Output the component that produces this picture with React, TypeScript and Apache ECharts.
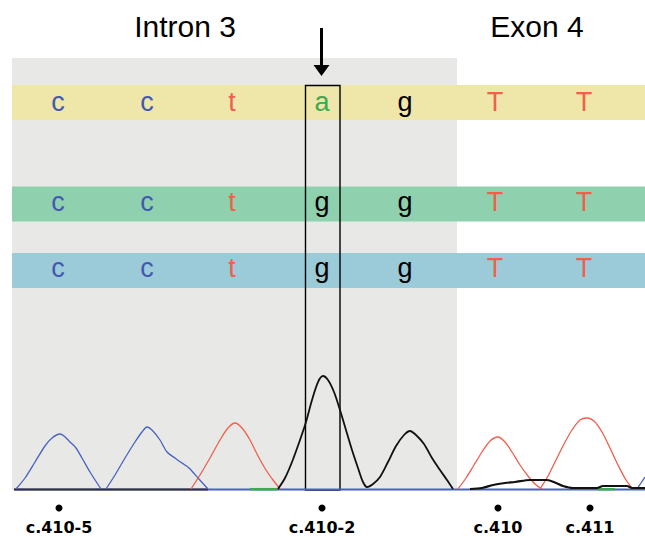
import React, { useEffect, useRef } from "react";
import * as echarts from "echarts";

// ---- data ----
const regionTitles = ["Intron 3", "Exon 4"];
const sequenceRows = [
  ["c", "c", "t", "a", "g", "T", "T"],
  ["c", "c", "t", "g", "g", "T", "T"],
  ["c", "c", "t", "g", "g", "T", "T"],
];
const baseX = [58, 147, 232, 322, 405, 495, 584];
const rowLevels = [388.4, 287.7, 222.1];
const bandRanges = [
  [370, 405],
  [268.5, 303.5],
  [202, 237],
];
const positionLabels = ["c.410-5", "c.410-2", "c.410", "c.411"];
const positionX = [59, 322, 498, 590];

// chromatogram traces (x = scan position, y = signal)
const blue1X = [16, 25, 35, 45, 52, 60, 64, 70, 76, 82, 90, 101];
const blue1Y = [1, 12, 28, 44, 52, 56, 54, 48, 42, 32, 18, 1];
const blue2X = [106, 115, 125, 135, 142, 147, 152, 160, 167, 175, 182, 189, 198, 208];
const blue2Y = [1, 15, 32, 48, 58, 63, 60, 50, 38, 32, 27, 22, 12, 1];
const red1X = [191, 200, 210, 220, 228, 235, 242, 250, 258, 266, 273, 280];
const red1Y = [1, 15, 32, 50, 62, 67, 62, 50, 34, 20, 10, 1];
const black1X = [278, 285, 292, 300, 306, 312, 318, 323, 328, 334, 340, 346, 352, 358, 363, 367, 373, 380, 388, 396, 404, 410, 416, 424, 432, 440, 447, 453];
const black1Y = [1, 12, 28, 50, 68, 90, 108, 114, 110, 98, 80, 60, 40, 22, 8, 3, 6, 13, 28, 44, 55, 59, 55, 46, 32, 20, 10, 1];
const red2X = [458, 466, 474, 482, 490, 498, 505, 512, 520, 528, 535, 542];
const red2Y = [1, 12, 25, 38, 49, 53, 48, 38, 25, 14, 6, 1];
const red3X = [540, 548, 556, 564, 572, 580, 587, 594, 602, 610, 618, 626, 633];
const red3Y = [1, 14, 30, 46, 60, 70, 72, 69, 58, 42, 25, 10, 1];
const blue3X = [637, 641, 645];
const blue3Y = [1, 7, 13];
const black2X = [470, 482, 493, 505, 515, 530, 547, 556, 563, 573, 597, 603, 627, 632, 645];
const black2Y = [1, 2, 5, 7, 8, 10, 10, 7, 4, 2, 2, 4, 4, 2, 2];
const baselineBlueX = [14, 645];
const baselineDarkX = [14, 208];
const green1X = [250, 277];
const green2X = [597, 615];

const BLUE = "#4862c0";
const RED = "#f0604c";
const BLACK = "#111111";
const letterColor: Record<string, string> = {
  c: "#4358b0",
  t: "#f0604a",
  T: "#f0604a",
  a: "#3caa50",
  g: "#000000",
};
const bandColors = ["#efe6aa", "#8fd1ae", "#9bcbd9"];

const zip = (xs: number[], ys: number[]) => xs.map((x, i) => [x, ys[i]]);
const flat = (xs: number[], v: number) => xs.map((x) => [x, v]);

export default function App() {
  const ref = useRef<HTMLDivElement>(null);
  useEffect(() => {
    document.body.style.margin = "0";
    const chart = echarts.init(ref.current!, undefined, { renderer: "svg" });

    const trace = (data: number[][], color: string, width: number, z = 3) => ({
      type: "line",
      data,
      showSymbol: false,
      symbol: "none",
      smooth: 0.3,
      z,
      silent: true,
      lineStyle: { color, width },
    });

    const letterData: any[] = [];
    sequenceRows.forEach((row, r) => {
      row.forEach((ch, i) => {
        letterData.push({
          value: [baseX[i], rowLevels[r]],
          name: ch,
          label: { color: letterColor[ch] },
        });
      });
    });

    chart.setOption({
      animation: false,
      grid: { left: 0, right: 0, top: 0, bottom: 0 },
      xAxis: { type: "value", min: 0, max: 645, show: false },
      yAxis: { type: "value", min: -47, max: 490, show: false },
      series: [
        {
          type: "line",
          data: [],
          z: 1,
          silent: true,
          markArea: {
            silent: true,
            itemStyle: { color: "#e8e8e6", opacity: 1 },
            data: [[{ xAxis: 12, yAxis: 0 }, { xAxis: 457, yAxis: 432 }]],
          },
        },
        {
          type: "line",
          data: [],
          z: 2,
          silent: true,
          markArea: {
            silent: true,
            data: bandRanges.map((b, i) => [
              { xAxis: 12, yAxis: b[0], itemStyle: { color: bandColors[i], opacity: 1 } },
              { xAxis: 645, yAxis: b[1] },
            ]),
          },
        },
        trace(flat(baselineBlueX, 0.5), BLUE, 2),
        trace(flat(baselineDarkX, 0.6), "#333333", 2),
        trace(flat(green1X, 0.8), "#3caa50", 2.5),
        trace(flat(green2X, 0.8), "#3caa50", 2.5),
        trace(zip(blue1X, blue1Y), BLUE, 1.3),
        trace(zip(blue2X, blue2Y), BLUE, 1.3),
        trace(zip(blue3X, blue3Y), BLUE, 1.3),
        trace(zip(red1X, red1Y), RED, 1.3),
        trace(zip(red2X, red2Y), RED, 1.3),
        trace(zip(red3X, red3Y), RED, 1.3),
        trace(zip(black2X, black2Y), BLACK, 2.2),
        trace(zip(black1X, black1Y), BLACK, 1.8),
        {
          type: "scatter",
          z: 4,
          silent: true,
          symbolSize: 1,
          itemStyle: { color: "rgba(0,0,0,0)", opacity: 1 },
          data: letterData,
          label: {
            show: true,
            position: "inside",
            formatter: (p: any) => p.name,
            fontSize: 27,
            opacity: 1,
            fontFamily: "Liberation Sans, Arial, sans-serif",
          },
        },
        {
          type: "line",
          data: [],
          z: 5,
          silent: true,
          markArea: {
            silent: true,
            itemStyle: { color: "rgba(0,0,0,0)", borderColor: "#000", borderWidth: 1.4, opacity: 1 },
            data: [[{ xAxis: 305.5, yAxis: 0 }, { xAxis: 340, yAxis: 404.5 }]],
          },
        },
        {
          type: "scatter",
          z: 4,
          silent: true,
          symbolSize: 7,
          itemStyle: { color: "#000", opacity: 1 },
          data: positionX.map((x) => [x, -18]),
        },
        {
          type: "scatter",
          z: 4,
          silent: true,
          symbolSize: 1,
          itemStyle: { color: "rgba(0,0,0,0)", opacity: 1 },
          data: positionX.map((x, i) => ({ value: [x, -37], name: positionLabels[i] })),
          label: {
            show: true,
            position: "inside",
            formatter: (p: any) => p.name,
            fontSize: 16,
            fontWeight: "bold",
            color: "#000",
            opacity: 1,
            fontFamily: "DejaVu Sans, sans-serif",
          },
        },
      ],
      graphic: [
        {
          type: "text",
          z: 10,
          style: {
            text: regionTitles[0],
            x: 185,
            y: 26,
            textAlign: "center",
            align: "center",
            textVerticalAlign: "middle",
            verticalAlign: "middle",
            fontSize: 30,
            fontFamily: "Liberation Sans, Arial, sans-serif",
            fill: "#000",
          },
        },
        {
          type: "text",
          z: 10,
          style: {
            text: regionTitles[1],
            x: 537,
            y: 26,
            textAlign: "center",
            align: "center",
            textVerticalAlign: "middle",
            verticalAlign: "middle",
            fontSize: 30,
            fontFamily: "Liberation Sans, Arial, sans-serif",
            fill: "#000",
          },
        },
        {
          type: "line",
          z: 10,
          shape: { x1: 321.5, y1: 28, x2: 321.5, y2: 68 },
          style: { stroke: "#000", lineWidth: 3 },
        },
        {
          type: "polygon",
          z: 10,
          shape: { points: [[313.5, 65], [329.5, 65], [321.5, 76]] },
          style: { fill: "#000" },
        },
      ],
    });
    return () => chart.dispose();
  }, []);
  return <div ref={ref} style={{ width: 645, height: 537 }} />;
}
